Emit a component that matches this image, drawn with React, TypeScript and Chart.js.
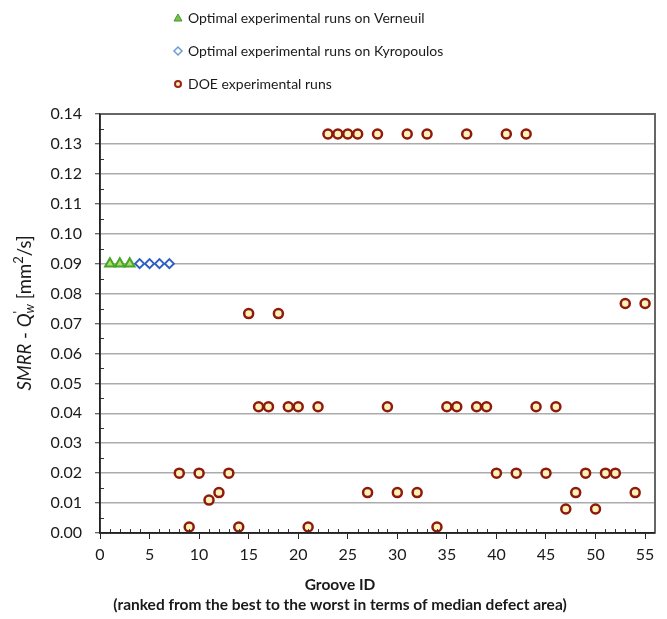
import { useEffect, useRef } from 'react';
import { Chart, registerables } from 'chart.js';

Chart.register(...registerables);

const verneuilIds = [1, 2, 3];
const verneuilValues = [0.09, 0.09, 0.09];

const kyropoulosIds = [4, 5, 6, 7];
const kyropoulosValues = [0.09, 0.09, 0.09, 0.09];

const doeIds = [
  8, 9, 10, 11, 12, 13, 14, 15, 16, 17, 18, 19, 20, 21, 22, 23, 24, 25, 26, 27, 28, 29, 30, 31,
  32, 33, 34, 35, 36, 37, 38, 39, 40, 41, 42, 43, 44, 45, 46, 47, 48, 49, 50, 51, 52, 53, 54, 55,
];
const doeValues = [
  0.02, 0.002, 0.02, 0.011, 0.0135, 0.02, 0.002, 0.0733, 0.0422, 0.0422, 0.0733, 0.0422, 0.0422,
  0.002, 0.0422, 0.1333, 0.1333, 0.1333, 0.1333, 0.0135, 0.1333, 0.0422, 0.0135, 0.1333, 0.0135,
  0.1333, 0.002, 0.0422, 0.0422, 0.1333, 0.0422, 0.0422, 0.02, 0.1333, 0.02, 0.1333, 0.0422, 0.02,
  0.0422, 0.008, 0.0135, 0.02, 0.008, 0.02, 0.02, 0.0767, 0.0135, 0.0767,
];

const legendLabels = [
  'Optimal experimental runs on Verneuil',
  'Optimal experimental runs on Kyropoulos',
  'DOE experimental runs',
];
const xTitleLines = ['Groove ID', '(ranked from the best to the worst in terms of median defect area)'];
const xMin = 0;
const xMax = 56;
const xStep = 5;
const yMin = 0;
const yMax = 0.14;
const yStep = 0.01;

const FONT = 'Lato';

const toPoints = (xs: number[], ys: number[]) => xs.map((x, i) => ({ x, y: ys[i] }));

const customPlugin = {
  id: 'customDecor',
  afterDraw(chart: any) {
    const ctx = chart.ctx as CanvasRenderingContext2D;
    const { left, right, top, bottom } = chart.chartArea;
    const xs = chart.scales.x;
    const ys = chart.scales.y;
    ctx.save();
    // minor ticks
    ctx.strokeStyle = '#333';
    ctx.lineWidth = 1;
    ctx.beginPath();
    for (let v = yMin + yStep / 2; v < yMax; v += yStep) {
      const py = Math.round(ys.getPixelForValue(v)) + 0.5;
      ctx.moveTo(left, py);
      ctx.lineTo(left + 4, py);
    }
    for (let i = xMin + 1; i < xMax; i++) {
      if (i % xStep === 0) continue;
      const px = Math.round(xs.getPixelForValue(i)) + 0.5;
      ctx.moveTo(px, bottom);
      ctx.lineTo(px, bottom - 4);
    }
    ctx.stroke();
    // frame
    ctx.strokeStyle = '#666';
    ctx.lineWidth = 2;
    ctx.beginPath();
    ctx.moveTo(left, top);
    ctx.lineTo(right, top);
    ctx.lineTo(right, bottom);
    ctx.stroke();
    ctx.strokeStyle = '#222';
    ctx.lineWidth = 1.5;
    ctx.beginPath();
    ctx.moveTo(left, top);
    ctx.lineTo(left, bottom);
    ctx.lineTo(right, bottom);
    ctx.stroke();

    // legend
    const lx = 178;
    const tx = 188;
    const lys = [18, 51, 84];
    ctx.font = `14px ${FONT}`;
    ctx.textBaseline = 'middle';
    ctx.textAlign = 'left';
    legendLabels.forEach((label, i) => {
      const y = lys[i];
      ctx.beginPath();
      if (i === 0) {
        ctx.moveTo(lx, y - 4);
        ctx.lineTo(lx + 4, y + 3);
        ctx.lineTo(lx - 4, y + 3);
        ctx.closePath();
        ctx.fillStyle = '#7cc04a';
        ctx.fill();
        ctx.strokeStyle = '#3f9a2a';
        ctx.lineWidth = 1;
        ctx.stroke();
      } else if (i === 1) {
        ctx.moveTo(lx, y - 4);
        ctx.lineTo(lx + 4, y);
        ctx.lineTo(lx, y + 4);
        ctx.lineTo(lx - 4, y);
        ctx.closePath();
        ctx.fillStyle = '#fff';
        ctx.fill();
        ctx.strokeStyle = '#6b9bd8';
        ctx.lineWidth = 1.5;
        ctx.stroke();
      } else {
        ctx.arc(lx, y, 3, 0, Math.PI * 2);
        ctx.fillStyle = '#fff2b8';
        ctx.fill();
        ctx.strokeStyle = '#9a2416';
        ctx.lineWidth = 2;
        ctx.stroke();
      }
      ctx.fillStyle = '#1a1a1a';
      ctx.fillText(label, tx, y);
    });

    // x-axis title (two centered bold lines)
    ctx.font = `bold 15.5px ${FONT}`;
    ctx.textAlign = 'center';
    ctx.textBaseline = 'middle';
    ctx.fillStyle = '#1a1a1a';
    ctx.fillText(xTitleLines[0], 340, 585);
    ctx.fillText(xTitleLines[1], 340, 605);
    ctx.textAlign = 'left';

    // y-axis title with mixed styles
    const size = 18.5;
    const small = 13;
    const segs: { t: string; style: string; dy: number; stack?: boolean; small?: boolean }[] = [
      { t: 'SMRR', style: 'italic', dy: 0 },
      { t: ' - ', style: 'normal', dy: 0 },
      { t: 'Q', style: 'italic', dy: 0 },
      { t: "'", style: 'normal', dy: -6, small: true, stack: true },
      { t: 'w', style: 'italic', dy: 5, small: true },
      { t: ' [mm', style: 'normal', dy: 0 },
      { t: '2', style: 'normal', dy: -6, small: true },
      { t: '/s]', style: 'normal', dy: 0 },
    ];
    const fontOf = (s: any) => `${s.style === 'italic' ? 'italic ' : ''}${s.small ? small : size}px ${FONT}`;
    let total = 0;
    const widths: number[] = [];
    segs.forEach((s) => {
      ctx.font = fontOf(s);
      widths.push(ctx.measureText(s.t).width);
    });
    segs.forEach((s, i) => {
      if (s.stack) return;
      if (i > 0 && segs[i - 1].stack) total += Math.max(widths[i], widths[i - 1]);
      else total += widths[i];
    });
    ctx.translate(25, 313);
    ctx.rotate(-Math.PI / 2);
    ctx.fillStyle = '#1a1a1a';
    ctx.textBaseline = 'middle';
    let cx = -total / 2;
    segs.forEach((s, i) => {
      ctx.font = fontOf(s);
      ctx.fillText(s.t, cx, s.dy);
      if (s.stack) return;
      if (i > 0 && segs[i - 1].stack) cx += Math.max(widths[i], widths[i - 1]);
      else cx += widths[i];
    });
    ctx.restore();
  },
};

export default function App() {
  const canvasRef = useRef<HTMLCanvasElement | null>(null);

  useEffect(() => {
    document.body.style.margin = '0';
    const canvas = canvasRef.current;
    if (!canvas) return;
    const chart = new Chart(canvas, {
      type: 'scatter',
      data: {
        datasets: [
          {
            label: legendLabels[0],
            data: toPoints(verneuilIds, verneuilValues),
            pointStyle: 'triangle',
            pointRadius: 5.5,
            backgroundColor: '#b2db6c',
            borderColor: '#45a52a',
            borderWidth: 2,
          },
          {
            label: legendLabels[1],
            data: toPoints(kyropoulosIds, kyropoulosValues),
            pointStyle: 'rectRot',
            pointRadius: 4.5,
            backgroundColor: '#ffffff',
            borderColor: '#2f5fc4',
            borderWidth: 2,
          },
          {
            label: legendLabels[2],
            data: toPoints(doeIds, doeValues),
            pointStyle: 'circle',
            pointRadius: 4.5,
            backgroundColor: '#fff2b8',
            borderColor: '#8e1a0e',
            borderWidth: 2.5,
          },
        ],
      },
      options: {
        animation: false,
        responsive: true,
        maintainAspectRatio: false,
        layout: { padding: { top: 114, right: 12, left: 0, bottom: 0 }, autoPadding: false },
        plugins: {
          legend: { display: false },
          tooltip: { enabled: false },
        },
        scales: {
          x: {
            type: 'linear',
            min: xMin,
            max: xMax,
            afterFit: (scale: any) => {
              scale.height = 86;
            },
            ticks: {
              stepSize: xStep,
              includeBounds: false,
              padding: 6,
              color: '#1a1a1a',
              font: { family: FONT, size: 16 },
              maxRotation: 0,
            },
            grid: {
              drawOnChartArea: false,
              drawTicks: true,
              tickLength: 6,
              color: '#222',
              lineWidth: 1,
            },
            border: { display: true, color: '#222', width: 1.5 },
            title: { display: false },
          },
          y: {
            type: 'linear',
            min: yMin,
            max: yMax,
            afterFit: (scale: any) => {
              scale.width = 100;
            },
            ticks: {
              stepSize: yStep,
              padding: 13,
              color: '#1a1a1a',
              font: { family: FONT, size: 16 },
              callback: (v: any) => Number(v).toFixed(2),
            },
            grid: {
              color: '#ababab',
              lineWidth: 1.5,
              tickColor: '#333',
              tickLength: 5,
              tickWidth: 1,
            },
            border: { display: true, color: '#222', width: 1.5 },
          },
        },
      },
      plugins: [customPlugin],
    });
    return () => chart.destroy();
  }, []);

  return (
    <div style={{ width: 667, height: 619, position: 'relative', background: '#fff' }}>
      <canvas ref={canvasRef} />
    </div>
  );
}
